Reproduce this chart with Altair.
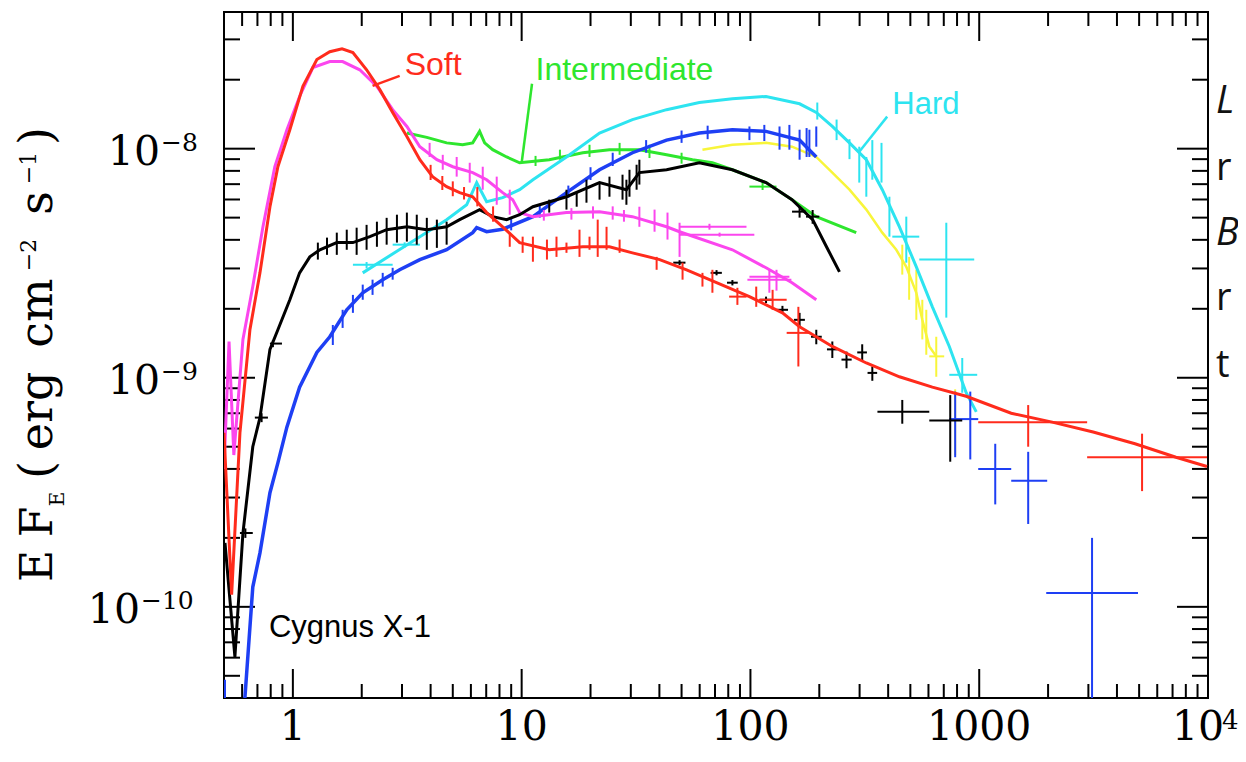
import altair as alt
import pandas as pd

# ---------------- data (energy in keV, E*F_E in units of 1e-9 erg cm^-2 s^-1) ----------------
SOFT_E = [0.50, 0.54, 0.587, 0.649, 0.718, 0.794, 0.86, 0.97, 1.106, 1.273, 1.45, 1.64, 1.83, 2.10, 2.40,
          2.73, 3.15, 3.59, 4.08, 4.70, 5.36, 6.11, 7.03, 8.26, 9.8, 13.2, 18.5, 24.2, 30.5, 40.1,
          52.6, 71.1, 99, 138, 164, 228, 321, 448, 624, 877, 1380, 2084, 3148, 4797, 7244, 9900]
SOFT_F = [0.575, 0.113, 0.575, 1.62, 2.87, 5.58, 8.34, 12.1, 18.7, 24.5, 26.5, 27.3, 26.3, 22.1, 18.1,
          14.4, 11.3, 8.95, 7.55, 6.83, 6.43, 6.17, 5.26, 4.56, 3.89, 3.62, 3.73, 3.73, 3.51, 3.28,
          2.96, 2.60, 2.26, 1.92, 1.67, 1.37, 1.16, 1.01, 0.91, 0.83, 0.70, 0.64, 0.58, 0.515, 0.45, 0.41]

MAG_E = [0.50, 0.526, 0.552, 0.605, 0.668, 0.740, 0.834, 0.942, 1.07, 1.223, 1.45, 1.65, 1.96, 2.33, 2.73,
         3.15, 3.59, 4.26, 5.0, 6.11, 7.03, 8.26, 9.14, 9.8, 11.2, 15.7, 21.9, 30.5, 43.0, 49.0,
         83.4, 117, 152, 194]
MAG_F = [0.40, 1.44, 0.46, 1.47, 2.50, 4.56, 8.34, 12.1, 16.9, 22.6, 24.0, 24.0, 22.1, 18.7, 14.8,
         12.5, 10.2, 8.95, 8.34, 7.86, 7.32, 6.43, 5.99, 5.26, 5.05, 5.26, 5.31, 5.05, 4.56, 4.34,
         3.62, 3.02, 2.60, 2.19]

INT_E = [3.15, 3.85, 4.70, 5.52, 6.11, 6.55, 6.89, 7.47, 8.60, 9.8, 13.2, 18.5, 24.2, 32.7, 43.0,
         55.8, 68.2, 83.4, 117, 152, 194, 290]
INT_F = [11.7, 11.2, 10.6, 10.4, 10.6, 11.9, 10.6, 9.9, 9.2, 8.68, 8.95, 9.6, 9.9, 9.9, 9.4,
         8.95, 8.68, 8.09, 7.11, 5.99, 5.05, 4.30]

HARD_E = [2.02, 3.59, 4.70, 5.75, 6.36, 7.03, 8.26, 9.8, 11.2, 15.7, 21.9, 30.5, 43.0, 59.8, 83.4,
          117, 164, 194, 228, 271, 321, 377, 448, 531, 624, 740, 877, 971]
HARD_F = [2.87, 4.13, 4.90, 5.69, 7.1, 5.87, 6.11, 6.62, 7.32, 9.2, 11.7, 13.4, 14.8, 15.9, 16.5,
          16.9, 15.7, 14.4, 12.5, 10.6, 8.95, 6.62, 4.56, 3.05, 2.04, 1.37, 0.86, 0.71]

BLUE_E = [0.617, 0.668, 0.718, 0.794, 0.86, 0.942, 1.07, 1.273, 1.45, 1.72, 2.02, 2.47, 2.93, 3.59, 4.70,
          6.11, 6.36, 7.03, 8.26, 11.2, 15.7, 21.9, 30.5, 43.0, 59.8, 83.4, 117, 164, 194]
BLUE_F = [0.040, 0.122, 0.172, 0.315, 0.425, 0.61, 0.91, 1.29, 1.51, 1.98, 2.35, 2.68, 2.96, 3.28, 3.62,
          4.30, 4.52, 4.34, 4.45, 5.05, 6.43, 8.09, 9.6, 10.9, 11.7, 12.1, 11.9, 10.9, 9.2]

BLK_E = [0.505, 0.558, 0.605, 0.668, 0.718, 0.794, 0.86, 0.97, 1.07, 1.186, 1.312, 1.556, 1.83, 2.17, 2.57,
         3.15, 3.85, 4.70, 5.36, 6.55, 7.47, 8.60, 9.8, 11.2, 15.7, 21.9, 28.7, 32.7, 43.0, 59.8,
         83.4, 117, 152, 187, 215, 245]
BLK_F = [0.19, 0.0605, 0.21, 0.50, 0.67, 1.33, 1.62, 2.19, 2.87, 3.37, 3.62, 3.89, 3.89, 4.13, 4.43,
         4.56, 4.43, 4.56, 4.90, 5.42, 5.05, 4.90, 5.15, 5.58, 6.17, 7.11, 6.62, 7.86, 8.09, 8.68,
         8.09, 7.11, 5.99, 4.90, 3.73, 2.90]

YEL_E = [61.7, 83.4, 117, 152, 194, 228, 271, 321, 377, 434, 480, 531, 564, 605, 649]
YEL_F = [9.9, 10.4, 10.6, 10.2, 9.2, 7.86, 6.62, 5.42, 4.30, 3.62, 3.05, 2.35, 1.79, 1.37, 1.24]

# vertical error bars: (E, F_low, F_high)
RED_BARS = [(4.0, 7.3, 8.5), (4.5, 6.6, 7.6), (5.0, 6.2, 7.2), (5.6, 6.0, 6.8), (6.4, 5.6, 6.8),
            (7.5, 4.8, 5.6), (8.87, 3.73, 4.30), (10.1, 3.51, 4.13), (11.2, 3.21, 4.13), (12.9, 3.28, 4.01),
            (14.2, 3.37, 4.13), (15.7, 3.51, 3.89), (17.9, 3.37, 4.43), (19.8, 3.62, 4.13),
            (21.5, 3.37, 4.90), (23.5, 3.62, 4.56), (26.8, 3.51, 4.01), (38.9, 2.96, 3.37),
            (50.5, 2.68, 3.18), (61.7, 2.50, 2.87), (68.2, 2.35, 2.96), (106, 2.04, 2.50)]
MAG_BARS = [(3.96, 9.2, 10.6), (4.52, 8.09, 9.4), (5.20, 7.55, 9.2), (5.93, 7.11, 8.68),
            (6.76, 6.62, 8.34), (7.78, 5.69, 7.55), (8.87, 5.15, 6.62), (12.5, 4.85, 5.4),
            (16.5, 4.9, 5.5), (20.5, 4.95, 5.6), (25.0, 4.9, 5.6), (28.0, 4.8, 5.4), (32.7, 4.56, 5.58),
            (38.1, 4.34, 5.42), (43.4, 4.01, 5.26), (49.0, 3.37, 4.75)]
INT_BARS = [(11.5, 8.4, 9.3), (14.7, 8.95, 9.9), (19.8, 9.2, 10.4), (26.8, 9.4, 10.6), (36.2, 9.1, 10.4),
            (50.0, 8.6, 9.6)]
HARD_BARS = [(196, 13.4, 15.9), (238, 10.9, 13.4), (271, 9.0, 11.0), (299, 7.11, 10.2),
             (321, 6.17, 9.2), (341, 7.32, 10.9), (374, 7.11, 10.6), (405, 4.13, 6.17)]
BLUE_BARS = [(0.505, 0.040, 0.048), (1.495, 1.39, 1.70), (1.65, 1.65, 1.98), (1.83, 1.92, 2.30),
             (2.02, 2.19, 2.55), (2.23, 2.30, 2.68), (2.47, 2.50, 2.87), (2.73, 2.68, 3.02),
             (9.0, 4.4, 5.0), (12.0, 5.0, 5.7), (16.0, 6.1, 6.9), (20.0, 7.3, 8.3), (25.0, 8.4, 9.6),
             (35.0, 9.6, 10.9), (50.0, 10.6, 12.0), (65.0, 11.0, 12.6),
             (99, 10.9, 12.5), (115, 10.8, 12.7), (134, 9.9, 12.5), (148, 9.9, 12.7),
             (164, 8.95, 12.1), (176, 9.2, 12.3), (181, 9.2, 12.1), (194, 10.2, 12.5), (785, 0.45, 0.87)]
BLK_BARS = [(1.286, 3.28, 3.89), (1.41, 3.44, 4.09), (1.556, 3.44, 4.30), (1.72, 3.62, 4.43),
            (1.90, 3.44, 4.52), (2.10, 3.62, 4.65), (2.33, 3.73, 4.80), (2.57, 3.81, 4.99),
            (2.85, 3.89, 5.15), (3.15, 3.93, 5.26), (3.48, 3.81, 5.15), (3.85, 3.62, 4.99),
            (4.26, 3.69, 4.90), (4.70, 3.81, 4.80), (13.2, 5.26, 5.99), (15.7, 5.42, 6.62),
            (17.4, 5.58, 6.43), (19.2, 5.81, 7.32), (21.9, 5.99, 7.11), (24.2, 6.17, 7.55),
            (27.6, 5.99, 7.70), (28.7, 5.69, 7.32), (29.6, 6.17, 8.09), (31.8, 6.62, 8.51), (32.7, 6.97, 8.95)]
YEL_BARS = [(461, 2.82, 3.81), (494, 2.19, 3.37), (531, 1.79, 2.96), (564, 1.47, 2.19),
            (587, 1.26, 1.98), (785, 0.46, 0.89)]

# crosses: (E, E_low, E_high, F, F_low, F_high)
RED_CROSS = [(87.7, 80.7, 96.1, 2.26, 2.08, 2.47), (125, 109, 144, 2.19, 1.98, 2.42),
             (162, 144, 181, 1.57, 1.12, 2.04), (1637, 990, 2963, 0.64, 0.50, 0.76),
             (5150, 2963, 9900, 0.45, 0.32, 0.57)]
MAG_CROSS = [(66.2, 49, 96.1, 4.56, 4.43, 4.70), (73.3, 49, 104, 4.21, 4.13, 4.30),
             (121, 97, 151, 2.68, 2.35, 2.96), (130, 99, 148, 2.76, 2.40, 2.96)]
INT_CROSS = [(113, 99, 130, 6.83, 6.6, 7.1)]
HARD_CROSS = [(2.10, 1.83, 2.73, 3.11, 3.0, 3.2), (3.08, 2.73, 3.59, 3.81, 3.7, 3.9),
              (480, 417, 547, 4.13, 3.18, 5.05), (718, 547, 951, 3.28, 1.83, 4.75),
              (843, 740, 980, 1.03, 0.86, 1.22)]
BLUE_CROSS = [(914, 740, 990, 0.66, 0.44, 0.87), (1175, 990, 1380, 0.40, 0.28, 0.515),
              (1637, 1380, 1982, 0.355, 0.23, 0.475), (3113, 1963, 4943, 0.115, 0.035, 0.20)]
BLK_CROSS = [(0.62, 0.587, 0.668, 0.21, 0.20, 0.22), (0.73, 0.682, 0.778, 0.67, 0.64, 0.70),
             (0.818, 0.794, 0.896, 1.41, 1.36, 1.46), (164, 152, 175, 5.31, 5.0, 5.6),
             (187, 175, 200, 5.05, 4.7, 5.4), (49.0, 46, 52, 3.18, 3.1, 3.26),
             (71.1, 67, 75, 2.87, 2.8, 2.95), (83.4, 79, 88, 2.60, 2.53, 2.67),
             (117, 110, 124, 2.19, 2.12, 2.26), (138, 130, 146, 1.98, 1.90, 2.06),
             (164, 155, 173, 1.79, 1.67, 1.92), (194, 184, 205, 1.51, 1.40, 1.62),
             (228, 216, 240, 1.33, 1.22, 1.44), (263, 250, 277, 1.20, 1.10, 1.30),
             (308, 293, 323, 1.29, 1.18, 1.40), (341, 325, 358, 1.05, 0.97, 1.12),
             (461, 359, 605, 0.71, 0.63, 0.80), (747, 605, 843, 0.65, 0.43, 0.84)]
YEL_CROSS = [(649, 605, 703, 1.24, 1.01, 1.51)]

# annotations: (text, E, F) and leader lines (E1, F1, E2, F2)
ANNOT = [("Soft", 3.08, 21.0), ("Intermediate", 11.5, 20.0), ("Hard", 417, 14.1), ("Cygnus X-1", 0.786, 0.074)]
LEADERS = [(2.93, 20.8, 2.23, 18.8), (11.1, 19.2, 10.0, 8.68), (396, 13.8, 299, 9.7)]

X_MAJOR = [1, 10, 100, 1000]
X_MINOR = [0.6, 0.7, 0.8, 0.9, 2, 3, 4, 5, 6, 7, 8, 9, 20, 30, 40, 50, 60, 70, 80, 90,
           200, 300, 400, 500, 600, 700, 800, 900, 2000, 3000, 4000, 5000, 6000, 7000, 8000, 9000]
Y_MAJOR = [1e-10, 1e-9, 1e-8]
Y_MINOR = [5e-11, 6e-11, 7e-11, 8e-11, 9e-11, 2e-10, 3e-10, 4e-10, 5e-10, 6e-10, 7e-10, 8e-10, 9e-10,
           2e-9, 3e-9, 4e-9, 5e-9, 6e-9, 7e-9, 8e-9, 9e-9, 2e-8, 3e-8]
X_LABELS = ["1", "10", "100", "1000"]
Y_SUPS = ["\u22128", "\u22129", "\u221210"]
TITLE_PARTS = ["E", "F", "E", "(", "erg", "cm", "\u22122", "s", "\u22121", ")"]
SIDE_TEXT = ["L", "r", "B", "r", "t"]

# ---------------- layout ----------------
W, H = 984, 686
UNIT = 1e-9
XS = alt.Scale(type="log", domain=[0.5, 10000])
YS = alt.Scale(type="log", domain=[4.0e-11, 3.95e-8])
C = {"soft": "#ff2b1c", "mag": "#fb46ee", "int": "#2ee62e", "hard": "#2de4f0",
     "blue": "#1e3ff4", "black": "#000000", "yel": "#f8f53a"}
SERIF = "DejaVu Serif"
SANS = "Liberation Sans"


def X(field):
    return alt.X(field, type="quantitative", scale=XS, axis=None)


def Y(field):
    return alt.Y(field, type="quantitative", scale=YS, axis=None)


def curve(E, F, color, width=3):
    df = pd.DataFrame({"E": E, "F": [f * UNIT for f in F], "i": list(range(len(E)))})
    return alt.Chart(df).mark_line(color=color, strokeWidth=width, clip=True).encode(
        x=X("E"), y=Y("F"), order="i:Q")


def vbars(rows, color, width=2):
    df = pd.DataFrame(rows, columns=["E", "lo", "hi"])
    df["lo"] = df["lo"] * UNIT
    df["hi"] = df["hi"] * UNIT
    return alt.Chart(df).mark_rule(color=color, strokeWidth=width, clip=True).encode(
        x=X("E"), y=Y("lo"), y2="hi:Q")


def crosses(rows, color, width=2):
    df = pd.DataFrame(rows, columns=["E", "Elo", "Ehi", "F", "Flo", "Fhi"])
    for c in ["F", "Flo", "Fhi"]:
        df[c] = df[c] * UNIT
    base = alt.Chart(df)
    h = base.mark_rule(color=color, strokeWidth=width, clip=True).encode(x=X("Elo"), x2="Ehi:Q", y=Y("F"))
    v = base.mark_rule(color=color, strokeWidth=width, clip=True).encode(x=X("E"), y=Y("Flo"), y2="Fhi:Q")
    return h + v


def xticks(vals, length):
    b = alt.Chart(pd.DataFrame({"v": vals})).mark_rule(color="black", strokeWidth=2)
    return (b.encode(x=X("v"), y=alt.value(H), y2=alt.value(H - length)) +
            b.encode(x=X("v"), y=alt.value(0), y2=alt.value(length)))


def yticks(vals, length):
    b = alt.Chart(pd.DataFrame({"v": vals})).mark_rule(color="black", strokeWidth=2)
    return (b.encode(y=Y("v"), x=alt.value(0), x2=alt.value(length)) +
            b.encode(y=Y("v"), x=alt.value(W), x2=alt.value(W - length)))


def ptext(text, x, y, size, font, color="black", angle=0, align="center", italic=False):
    return alt.Chart(pd.DataFrame({"t": [text]})).mark_text(
        font=font, fontSize=size, color=color, angle=angle, align=align, baseline="alphabetic",
        fontStyle="italic" if italic else "normal").encode(
        x=alt.value(x), y=alt.value(y), text="t:N")


layers = []
layers += [xticks(X_MAJOR, 29), xticks(X_MINOR, 14), yticks(Y_MAJOR, 31), yticks(Y_MINOR, 16)]

# spectra
layers += [curve(YEL_E, YEL_F, C["yel"], 2.5), vbars(YEL_BARS, C["yel"]), crosses(YEL_CROSS, C["yel"])]
layers += [curve(INT_E, INT_F, C["int"]), vbars(INT_BARS, C["int"]), crosses(INT_CROSS, C["int"])]
layers += [curve(HARD_E, HARD_F, C["hard"]), vbars(HARD_BARS, C["hard"]), crosses(HARD_CROSS, C["hard"])]
layers += [curve(BLUE_E, BLUE_F, C["blue"], 3.5), vbars(BLUE_BARS, C["blue"]), crosses(BLUE_CROSS, C["blue"])]
layers += [curve(MAG_E, MAG_F, C["mag"]), vbars(MAG_BARS, C["mag"]), crosses(MAG_CROSS, C["mag"])]
layers += [curve(BLK_E, BLK_F, C["black"]), vbars(BLK_BARS, C["black"]), crosses(BLK_CROSS, C["black"])]
layers += [curve(SOFT_E, SOFT_F, C["soft"]), vbars(RED_BARS, C["soft"]), crosses(RED_CROSS, C["soft"])]

# annotations
ann_colors = [C["soft"], C["int"], C["hard"], C["black"]]
ann_sizes = [32, 32, 31, 31]
for (t, e, f), col, sz in zip(ANNOT, ann_colors, ann_sizes):
    df = pd.DataFrame({"t": [t], "E": [e], "F": [f * UNIT]})
    layers.append(alt.Chart(df).mark_text(font=SANS, fontSize=sz, color=col, align="left",
                                          baseline="alphabetic").encode(x=X("E"), y=Y("F"), text="t:N"))
for (e1, f1, e2, f2), col in zip(LEADERS, ann_colors[:3]):
    df = pd.DataFrame({"E1": [e1], "F1": [f1 * UNIT], "E2": [e2], "F2": [f2 * UNIT]})
    layers.append(alt.Chart(df).mark_rule(color=col, strokeWidth=2.5).encode(
        x=X("E1"), x2="E2:Q", y=Y("F1"), y2="F2:Q"))

# x tick labels
LBL_Y = H + 42
xl = pd.DataFrame({"v": X_MAJOR, "t": X_LABELS})
layers.append(alt.Chart(xl).mark_text(font=SERIF, fontSize=41, baseline="alphabetic", align="center").encode(
    x=X("v"), y=alt.value(LBL_Y), text="t:N"))
layers.append(alt.Chart(pd.DataFrame({"v": [10000], "t": ["10"]})).mark_text(
    font=SERIF, fontSize=41, baseline="alphabetic", align="center", dx=-10).encode(
    x=X("v"), y=alt.value(LBL_Y), text="t:N"))
layers.append(alt.Chart(pd.DataFrame({"v": [10000], "t": ["4"]})).mark_text(
    font=SERIF, fontSize=26, baseline="alphabetic", align="left", dx=14).encode(
    x=X("v"), y=alt.value(LBL_Y - 11), text="t:N"))

# y tick labels
yl_main = [(Y_MAJOR[2], 160 - 224), (Y_MAJOR[1], 160 - 224), (Y_MAJOR[0], 140 - 224)]
for (v, xr), sup in zip(yl_main, [Y_SUPS[0], Y_SUPS[1], Y_SUPS[2]]):
    d = pd.DataFrame({"v": [v], "t": ["10"], "s": [sup]})
    layers.append(alt.Chart(d).mark_text(font=SERIF, fontSize=41, align="right", baseline="alphabetic",
                                         dy=16).encode(x=alt.value(xr), y=Y("v"), text="t:N"))
    layers.append(alt.Chart(d).mark_text(font=SERIF, fontSize=25, align="left", baseline="alphabetic",
                                         dy=2).encode(x=alt.value(xr + 1), y=Y("v"), text="s:N"))

# y axis title pieces (rotated): page center-y, page baseline-x, size
title_layout = [(566, 52, 44), (522, 52, 44), (499, 64, 20), (470, 52, 46), (411, 52, 46),
                (313, 52, 46), (255, 36, 22), (203, 52, 46), (168, 36, 22), (136, 52, 46)]
for txt, (cy, bx, sz) in zip(TITLE_PARTS, title_layout):
    layers.append(ptext(txt, bx - 224, cy - 12, sz, SERIF, angle=270))

# letters of a neighbouring text that show at the right edge of the screenshot
side_layout = [(101, True), (168, False), (233, True), (298, False), (365, False)]
for txt, (by, it) in zip(SIDE_TEXT, side_layout):
    layers.append(ptext(txt, 992, by, 38, "Open Sans", color="#111111", align="left", italic=it))

chart = alt.layer(*layers).properties(
    width=W, height=H,
    padding={"left": 216, "top": 4, "right": 30, "bottom": 52},
    autosize=alt.AutoSizeParams(type="none"),
).configure_view(stroke="black", strokeWidth=2)

chart.save("out.html", embed_options={"renderer": "svg", "actions": False})
